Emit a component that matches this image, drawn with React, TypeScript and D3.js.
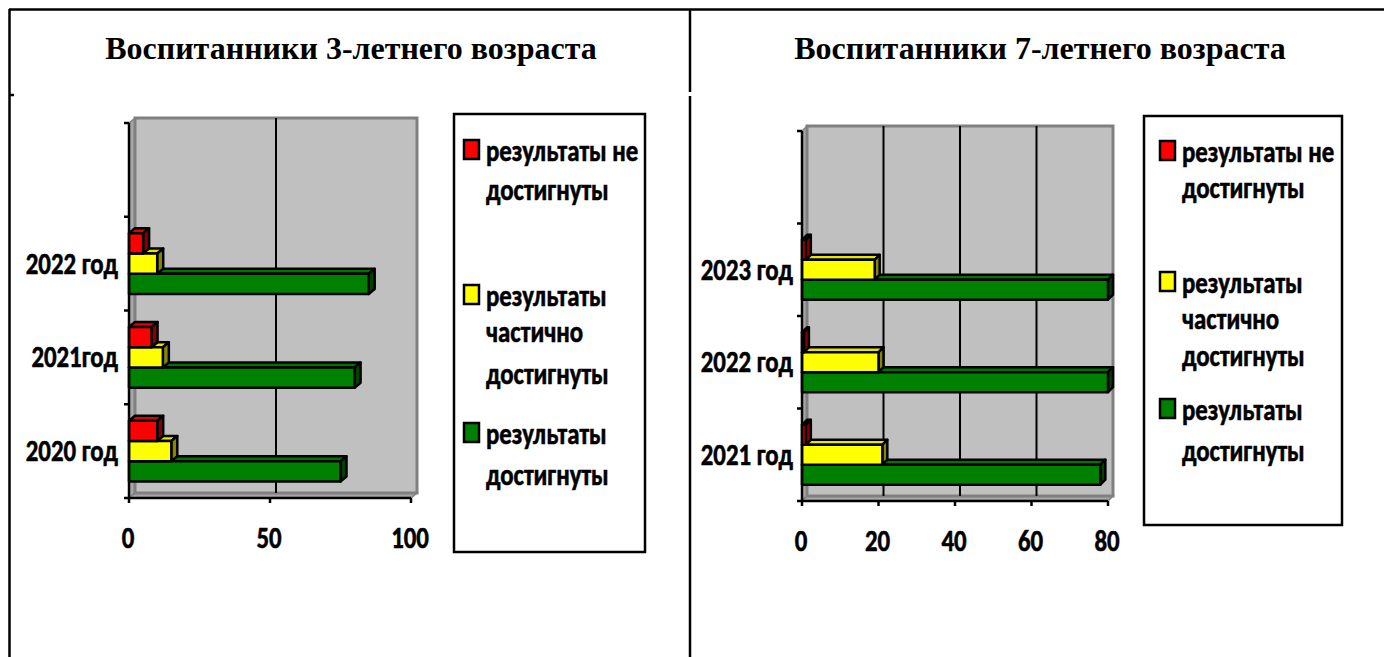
import React from "react";
import * as d3 from "d3";

// ---- data ----
const seriesKeys = ["notReached", "partial", "reached"];
const seriesColors = ["#ff0000", "#ffff00", "#008000"];
const seriesLabels = [
  ["результаты не", "достигнуты"],
  ["результаты", "частично", "достигнуты"],
  ["результаты", "достигнуты"],
];

// bottom to top, last band is empty
const years3 = ["2020 год", "2021год", "2022 год", ""];
const notReached3 = [10, 8, 5];
const partial3 = [15, 12, 10];
const reached3 = [75, 80, 85];
const ticks3 = [0, 50, 100];

const years7 = ["2021 год", "2022 год", "2023 год", ""];
const notReached7 = [1, 0.5, 1];
const partial7 = [21, 20, 19];
const reached7 = [78, 80, 80];
const ticks7 = [0, 20, 40, 60, 80];

const titles = ["Воспитанники 3-летнего возраста", "Воспитанники 7-летнего возраста"];

const LABEL_FONT = "Carlito, Lato, 'Open Sans', sans-serif";
const SX = 0.8;

const Cal = ({ x, y, anchor = "start", size = 31, children }: any) => (
  <text
    transform={`translate(${x},${y}) scale(${SX},1)`}
    textAnchor={anchor}
    fontFamily={LABEL_FONT}
    fontWeight={700}
    fontSize={size}
    fill="#000"
    stroke="#000"
    strokeWidth={0.6}
  >
    {children}
  </text>
);

interface ChartProps {
  cats: string[];
  values: number[][];
  ticks: number[];
  xr: [number, number];
  yr: [number, number];
  depth: [number, number];
  labelX: number;
}

const Bars3D = ({ cats, values, ticks, xr, yr, depth, labelX }: ChartProps) => {
  const [dx, dy] = depth;
  const x = d3.scaleLinear().domain([0, ticks[ticks.length - 1]]).range(xr);
  const y = d3.scaleBand<string>().domain(cats.map((c, i) => c + "#" + i)).range(yr).padding(0);
  const inner = d3
    .scaleBand<string>()
    .domain(seriesKeys)
    .range([0, y.bandwidth()])
    .paddingInner(0)
    .paddingOuter(0.82);
  const keys = y.domain();
  const bounds = d3.range(keys.length + 1).map((i) => yr[0] - i * y.step());
  const [xa, xb] = xr;
  const yb = yr[0];
  const yt = yr[1];

  const bars: React.ReactNode[] = [];
  keys.forEach((k, ci) => {
    if (ci >= values[0].length) return;
    // lower series first so the upper ones hide their top faces
    for (let si = seriesKeys.length - 1; si >= 0; si--) {
      const v = values[si][ci];
      const y0 = (y(k) as number) + (inner(seriesKeys[si]) as number);
      const h = inner.bandwidth();
      const x0 = x(0);
      const x1 = x(v);
      const c = d3.color(seriesColors[si])!;
      const top = `${x0},${y0} ${x0 + dx},${y0 - dy} ${x1 + dx},${y0 - dy} ${x1},${y0}`;
      const side = `${x1},${y0} ${x1 + dx},${y0 - dy} ${x1 + dx},${y0 + h - dy} ${x1},${y0 + h}`;
      bars.push(
        <g key={`${ci}-${si}`} stroke="#000" strokeWidth={2.5} strokeLinejoin="round">
          <polygon points={top} fill={c.darker(0.3).toString()} />
          <polygon points={side} fill={c.darker(1.8).toString()} />
          <rect x={x0} y={y0} width={Math.max(0, x1 - x0)} height={h} fill={seriesColors[si]} />
        </g>
      );
    }
  });

  return (
    <g>
      {/* side wall */}
      <polygon
        points={`${xa},${yt} ${xa + dx},${yt - dy} ${xa + dx},${yb - dy} ${xa},${yb}`}
        fill="#a6a6a6"
        stroke="#808080"
        strokeWidth={1.5}
      />
      {/* floor */}
      <polygon
        points={`${xa},${yb} ${xb},${yb} ${xb + dx},${yb - dy} ${xa + dx},${yb - dy}`}
        fill="#a6a6a6"
        stroke="#808080"
        strokeWidth={1.5}
      />
      {/* back wall */}
      <rect
        x={xa + dx}
        y={yt - dy}
        width={xb - xa}
        height={yb - yt}
        fill="#c0c0c0"
        stroke="#808080"
        strokeWidth={3}
      />
      {ticks.slice(1, -1).map((t) => (
        <line key={t} x1={x(t) + dx} x2={x(t) + dx} y1={yt - dy} y2={yb - dy} stroke="#000" strokeWidth={2} />
      ))}
      {bars}
      {/* axes */}
      <line x1={xa} x2={xa} y1={yt} y2={yb} stroke="#000" strokeWidth={2.5} />
      <line x1={xa} x2={xb} y1={yb} y2={yb} stroke="#000" strokeWidth={2.5} />
      {bounds.map((b, i) => (
        <line key={i} x1={xa - 5} x2={xa} y1={b} y2={b} stroke="#000" strokeWidth={2.5} />
      ))}
      {ticks.map((t) => (
        <g key={t}>
          <line x1={x(t)} x2={x(t)} y1={yb} y2={yb + 5} stroke="#000" strokeWidth={2.5} />
          <Cal x={x(t) - 1} y={yb + 50} anchor="middle">
            {t}
          </Cal>
        </g>
      ))}
      {keys.map((k, i) => (
        <Cal key={k} x={labelX} y={(y(k) as number) + y.bandwidth() / 2 + 10} anchor="end">
          {cats[i]}
        </Cal>
      ))}
    </g>
  );
};

const Legend = ({ box, swX, textX, lineYs }: any) => (
  <g>
    <rect x={box[0]} y={box[1]} width={box[2]} height={box[3]} fill="#fff" stroke="#000" strokeWidth={2.5} />
    {seriesLabels.map((lines, si) => (
      <g key={si}>
        <rect
          x={swX}
          y={lineYs[si][0] - 21}
          width={15}
          height={19}
          fill={seriesColors[si]}
          stroke="#000"
          strokeWidth={2.5}
        />
        {lines.map((l, li) => (
          <Cal key={li} x={textX} y={lineYs[si][li]}>
            {l}
          </Cal>
        ))}
      </g>
    ))}
  </g>
);

export default function App() {
  return (
    <div style={{ position: "absolute", left: 0, top: 0 }}>
      <svg width={1384} height={657} style={{ display: "block", background: "#fff" }}>
        {/* table frame */}
        <g stroke="#000" strokeWidth={2.5}>
          <line x1={9} x2={1384} y1={9.5} y2={9.5} />
          <line x1={9.5} x2={9.5} y1={9} y2={657} />
          <line x1={690} x2={690} y1={9} y2={92} />
          <line x1={690} x2={690} y1={96} y2={657} />
          <line x1={9} x2={14} y1={95} y2={95} />
        </g>
        {titles.map((t, i) => (
          <text
            key={i}
            x={i === 0 ? 351 : 1040}
            y={59}
            textAnchor="middle"
            fontFamily="'Liberation Serif', 'Times New Roman', serif"
            fontWeight={700}
            fontSize={32}
          >
            {t}
          </text>
        ))}
        <Bars3D
          cats={years3}
          values={[notReached3, partial3, reached3]}
          ticks={ticks3}
          xr={[129, 411]}
          yr={[498, 123]}
          depth={[6, 5]}
          labelX={118}
        />
        <Legend
          box={[454, 114, 191, 438]}
          swX={464}
          textX={486}
          lineYs={[
            [161, 200],
            [306, 342, 384],
            [444, 485],
          ]}
        />
        <Bars3D
          cats={years7}
          values={[notReached7, partial7, reached7]}
          ticks={ticks7}
          xr={[802, 1108]}
          yr={[501, 131]}
          depth={[5, 5]}
          labelX={793}
        />
        <Legend
          box={[1144, 116, 198, 409]}
          swX={1160}
          textX={1182}
          lineYs={[
            [162, 198],
            [293, 329, 366],
            [420, 461],
          ]}
        />
      </svg>
    </div>
  );
}
